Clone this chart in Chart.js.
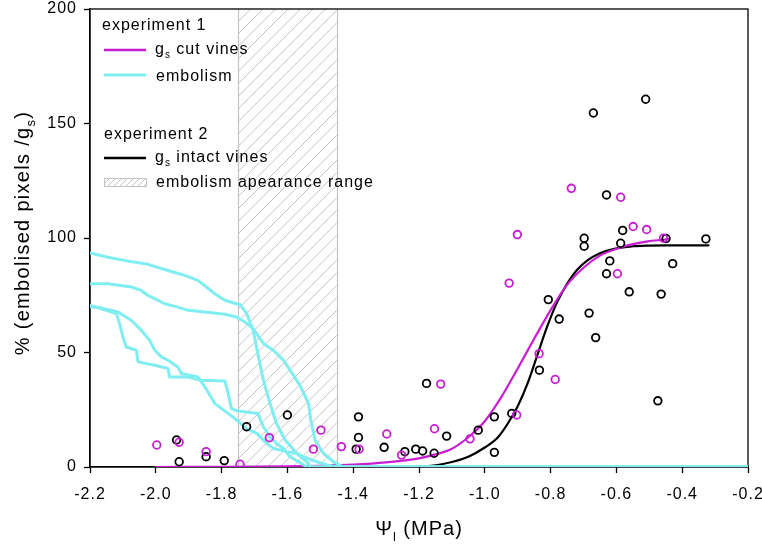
<!DOCTYPE html>
<html><head><meta charset="utf-8">
<script src="https://cdn.jsdelivr.net/npm/chart.js@4.4.1/dist/chart.umd.min.js"></script>
<style>html,body{margin:0;padding:0;background:#fff;}#wrap{width:762px;height:551px;position:relative;}</style>
</head><body><div id="wrap"><canvas id="c"></canvas></div>
<script>
// ---------- DATA ----------
const xTickValues = [-2.2, -2.0, -1.8, -1.6, -1.4, -1.2, -1.0, -0.8, -0.6, -0.4, -0.2];
const yTickValues = [0, 50, 100, 150, 200];

// embolism appearance range (MPa)
const rangeFrom = -1.75;
const rangeTo = -1.45;

// gs cut vines (experiment 1) – observations
const cutPsi = [-1.997, -1.929, -1.847, -1.744, -1.655, -1.521, -1.498, -1.436, -1.382, -1.298, -1.253, -1.153, -1.134, -1.045, -0.926, -0.903, -0.901, -0.835, -0.786, -0.737, -0.597, -0.587, -0.549, -0.508, -0.457];
const cutGs  = [9.6, 10.8, 6.7, 1.2, 12.8, 7.8, 16.1, 8.9, 7.8, 14.4, 5.2, 16.7, 36.2, 12.3, 80.3, 22.7, 101.5, 49.5, 38.2, 121.7, 84.4, 117.8, 105.0, 103.7, 99.9];

// gs intact vines (experiment 2) – observations
const intactPsi = [-1.937, -1.929, -1.847, -1.792, -1.724, -1.600, -1.384, -1.384, -1.391, -1.306, -1.243, -1.210, -1.189, -1.154, -1.177, -1.116, -1.020, -0.971, -0.971, -0.918, -0.834, -0.807, -0.774, -0.698, -0.698, -0.683, -0.670, -0.663, -0.630, -0.630, -0.620, -0.581, -0.587, -0.561, -0.511, -0.474, -0.464, -0.449, -0.429, -0.328];
const intactGs  = [11.8, 2.3, 4.5, 2.8, 17.6, 22.7, 21.9, 12.9, 7.8, 8.6, 6.7, 7.8, 7.0, 6.0, 36.5, 13.5, 16.1, 21.9, 6.4, 23.4, 42.3, 73.1, 64.6, 99.9, 96.4, 67.2, 154.6, 56.5, 118.8, 84.4, 90.0, 103.3, 97.7, 76.5, 160.6, 28.9, 75.5, 99.8, 88.8, 99.6];

// fitted curves
const cutFitPsi = [-2.0, -1.8, -1.6, -1.5, -1.4, -1.3, -1.2, -1.15, -1.1, -1.05, -1.0, -0.95, -0.9, -0.85, -0.8, -0.75, -0.7, -0.65, -0.6, -0.55, -0.5, -0.44];
const cutFitGs  = [0, 0.05, 0.25, 0.5, 1.0, 2.0, 3.8, 5.5, 8, 13, 20, 30.5, 43, 56, 68.5, 79.5, 87, 92.3, 95.3, 97.3, 98.6, 99.5];
const intactFitPsi = [-2.0, -1.5, -1.3, -1.18, -1.1, -1.05, -1.0, -0.96, -0.93, -0.9, -0.87, -0.84, -0.81, -0.78, -0.75, -0.72, -0.69, -0.65, -0.6, -0.55, -0.5, -0.45, -0.4, -0.32];
const intactFitGs  = [0, 0, 0, 0.3, 2.2, 4.5, 8.5, 13, 19, 26.5, 36.5, 49, 61.5, 72, 80, 86, 90, 93.3, 95.5, 96.4, 96.7, 96.8, 96.8, 96.8];

// embolism curves (experiment 1, four vines)
const emb1Psi = [-2.2, -2.145, -2.084, -2.024, -1.963, -1.912, -1.872, -1.846, -1.821, -1.79, -1.755, -1.744, -1.724, -1.704, -1.688, -1.673, -1.653, -1.633, -1.607, -1.572, -1.541, -1.53, -0.2];
const emb1Pct = [93.5, 91.6, 89.9, 88.5, 85.8, 83.7, 81.5, 78.6, 75.7, 72.8, 71.3, 71.0, 67, 59.7, 48.1, 37.9, 27.8, 19, 11.8, 6, 2.3, 0, 0];
const emb2Psi = [-2.2, -2.145, -2.074, -2.044, -2.024, -1.993, -1.973, -1.933, -1.902, -1.851, -1.79, -1.755, -1.729, -1.704, -1.673, -1.643, -1.612, -1.592, -1.562, -1.536, -1.529, -1.516, -1.491, -1.46, -1.43, -0.2];
const emb2Pct = [80, 80, 78.6, 77.1, 74.9, 72.8, 71.3, 69.8, 68.4, 67.7, 66.7, 65.5, 63.3, 60.4, 53.9, 51, 46.6, 42.3, 35.7, 27.8, 20.5, 11.8, 6, 2.3, 0, 0];
const emb3Psi = [-2.2, -2.166, -2.12, -2.11, -2.1, -2.09, -2.059, -2.054, -2.003, -1.963, -1.958, -1.902, -1.862, -1.79, -1.78, -1.77, -1.754, -1.69, -1.673, -1.653, -1.633, -1.612, -1.592, -1.562, -1.54, -0.2];
const emb3Pct = [70.6, 69.1, 67, 62.6, 56.8, 52.4, 51, 45.9, 44.4, 43, 39.3, 39.3, 37.9, 37.6, 32.1, 25.5, 24.6, 23.4, 17.6, 13.2, 10.3, 8.1, 4.5, 1.9, 0, 0];
const emb4Psi = [-2.2, -2.166, -2.115, -2.074, -2.044, -2.019, -2.003, -1.983, -1.963, -1.933, -1.922, -1.872, -1.851, -1.821, -1.78, -1.754, -1.724, -1.693, -1.663, -1.643, -1.602, -1.572, -1.552, -1.511, -1.48, -1.45, -0.2];
const emb4Pct = [70, 69.5, 67.7, 64, 59.7, 55.3, 51, 48.1, 46.6, 43.7, 40.8, 39.3, 35, 27.8, 23.4, 20.5, 16.8, 14.7, 10.3, 8.1, 6.7, 6, 4.5, 2.3, 0.9, 0, 0];

// texts
const xTitleMain = 'Ψ', xTitleSub = 'l', xTitleRest = ' (MPa)';
const yTitleMain = '% (embolised pixels /g', yTitleSub = 's', yTitleRest = ')';
const legendHead1 = 'experiment 1';
const legendCut = ['g', 's', ' cut vines'];
const legendEmb = 'embolism';
const legendHead2 = 'experiment 2';
const legendIntact = ['g', 's', ' intact vines'];
const legendRange = 'embolism apearance range';

// ---------- STYLE ----------
const MAGENTA = '#c81ed2';
const CYAN = '#80eef0';
const HATCH = '#c4c4c4';
const FONT = "'Liberation Sans', Arial, sans-serif";
const SPACING = '1px';

const pts = (xs, ys) => xs.map((x, i) => ({ x: x, y: ys[i] }));

function hatchPath(ctx, x1, x2, yTop, yBot, step) {
  ctx.save();
  ctx.beginPath();
  ctx.rect(x1, yTop, x2 - x1, yBot - yTop);
  ctx.clip();
  ctx.strokeStyle = HATCH;
  ctx.lineWidth = 1;
  ctx.beginPath();
  const h = yBot - yTop;
  for (let k = -h; k < (x2 - x1) + h; k += step) {
    ctx.moveTo(x1 + k, yBot);
    ctx.lineTo(x1 + k + h, yTop);
  }
  ctx.stroke();
  ctx.restore();
}

function drawSub(ctx, x, y, main, sub, rest, size, align) {
  ctx.font = `${size}px ${FONT}`;
  const w1 = ctx.measureText(main).width;
  const w3 = ctx.measureText(rest).width;
  ctx.font = `${Math.round(size * 0.65)}px ${FONT}`;
  const w2 = ctx.measureText(sub).width;
  let sx = x;
  if (align === 'center') sx = x - (w1 + w2 + w3) / 2;
  ctx.textAlign = 'left';
  ctx.font = `${size}px ${FONT}`;
  ctx.fillText(main, sx, y);
  ctx.font = `${Math.round(size * 0.65)}px ${FONT}`;
  ctx.fillText(sub, sx + w1, y + size * 0.28);
  ctx.font = `${size}px ${FONT}`;
  ctx.fillText(rest, sx + w1 + w2, y);
}

const spacingPlugin = {
  id: 'spacing',
  beforeLayout(chart) { chart.ctx.letterSpacing = SPACING; },
  beforeDraw(chart) { chart.ctx.letterSpacing = SPACING; }
};

const rangePlugin = {
  id: 'range',
  beforeDatasetsDraw(chart) {
    const { ctx, scales: { x, y } } = chart;
    const a = chart.chartArea;
    const x1 = x.getPixelForValue(rangeFrom), x2 = x.getPixelForValue(rangeTo);
    const yTop = y.getPixelForValue(200), yBot = y.getPixelForValue(0);
    hatchPath(ctx, x1, x2, yTop, yBot, 12.5);
    ctx.save();
    ctx.strokeStyle = HATCH;
    ctx.lineWidth = 1.2;
    ctx.beginPath();
    ctx.moveTo(Math.round(x1) + 0.5, yTop); ctx.lineTo(Math.round(x1) + 0.5, yBot);
    ctx.moveTo(Math.round(x2) + 0.5, yTop); ctx.lineTo(Math.round(x2) + 0.5, yBot);
    ctx.stroke();
    // frame
    ctx.strokeStyle = '#000';
    ctx.lineWidth = 1.3;
    ctx.strokeRect(a.left, a.top, a.right - a.left, a.bottom - a.top);
    ctx.restore();
  }
};

const decorPlugin = {
  id: 'decor',
  afterDatasetsDraw(chart) {
    const ctx = chart.ctx;
    const a = chart.chartArea;
    ctx.save();
    ctx.letterSpacing = SPACING;
    ctx.fillStyle = '#000';
    ctx.textBaseline = 'alphabetic';
    // legend
    const S = 16;
    ctx.font = `${S}px ${FONT}`;
    ctx.textAlign = 'left';
    ctx.fillText(legendHead1, 102, 30);
    ctx.lineWidth = 2.5;
    ctx.strokeStyle = MAGENTA;
    ctx.beginPath(); ctx.moveTo(104, 50); ctx.lineTo(146, 50); ctx.stroke();
    drawSub(ctx, 155, 54, legendCut[0], legendCut[1], legendCut[2], S);
    ctx.strokeStyle = CYAN;
    ctx.lineWidth = 3;
    ctx.beginPath(); ctx.moveTo(104, 75); ctx.lineTo(146, 75); ctx.stroke();
    ctx.font = `${S}px ${FONT}`;
    ctx.fillText(legendEmb, 156, 81);
    ctx.fillText(legendHead2, 104, 139);
    ctx.strokeStyle = '#000';
    ctx.lineWidth = 2.5;
    ctx.beginPath(); ctx.moveTo(104, 158); ctx.lineTo(146, 158); ctx.stroke();
    drawSub(ctx, 155, 162, legendIntact[0], legendIntact[1], legendIntact[2], S);
    hatchPath(ctx, 104, 147, 178, 186, 6);
    ctx.strokeStyle = HATCH;
    ctx.lineWidth = 1;
    ctx.strokeRect(104.5, 178.5, 42, 8);
    ctx.font = `${S}px ${FONT}`;
    ctx.fillText(legendRange, 156, 187);
    // axis titles
    drawSub(ctx, (a.left + a.right) / 2, 535, xTitleMain, xTitleSub, xTitleRest, 20, 'center');
    ctx.save();
    ctx.translate(29, (a.top + a.bottom) / 2 - 5);
    ctx.rotate(-Math.PI / 2);
    ctx.letterSpacing = '1.3px';
    drawSub(ctx, 0, 0, yTitleMain, yTitleSub, yTitleRest, 20, 'center');
    ctx.restore();
    ctx.restore();
  }
};

Chart.defaults.font.family = FONT;
Chart.defaults.font.size = 16;
Chart.defaults.color = '#000';

const lineDs = (label, xs, ys, color, width) => ({
  label, data: pts(xs, ys), showLine: true, borderColor: color, borderWidth: width,
  pointRadius: 0, pointHoverRadius: 0, fill: false, tension: 0, borderJoinStyle: 'round', borderCapStyle: 'round'
});

const zeroPad = (s) => { s.paddingTop = 0; s.paddingBottom = 0; s.paddingLeft = 0; s.paddingRight = 0; };

new Chart(document.getElementById('c'), {
  type: 'scatter',
  data: {
    datasets: [
      { label: 'gs cut vines (obs)', data: pts(cutPsi, cutGs), pointStyle: 'circle', pointRadius: 3.8, borderWidth: 1.8,
        borderColor: MAGENTA, backgroundColor: 'rgba(0,0,0,0)' },
      { label: 'gs intact vines (obs)', data: pts(intactPsi, intactGs), pointStyle: 'circle', pointRadius: 3.8, borderWidth: 1.8,
        borderColor: '#000', backgroundColor: 'rgba(0,0,0,0)' },
      lineDs('embolism 1', emb1Psi, emb1Pct, CYAN, 3),
      lineDs('embolism 2', emb2Psi, emb2Pct, CYAN, 3),
      lineDs('embolism 3', emb3Psi, emb3Pct, CYAN, 3),
      lineDs('embolism 4', emb4Psi, emb4Pct, CYAN, 3),
      Object.assign(lineDs('gs cut vines', cutFitPsi, cutFitGs, MAGENTA, 2.2), { tension: 0.4, cubicInterpolationMode: 'monotone' }),
      Object.assign(lineDs('gs intact vines', intactFitPsi, intactFitGs, '#000', 2.2), { tension: 0.4, cubicInterpolationMode: 'monotone' })
    ]
  },
  options: {
    responsive: true,
    maintainAspectRatio: false,
    animation: false,
    events: [],
    layout: { padding: { left: 0, right: 14, top: 9, bottom: 0 } },
    plugins: { legend: { display: false }, tooltip: { enabled: false }, title: { display: false } },
    scales: {
      x: {
        type: 'linear', min: -2.2, max: -0.2,
        afterBuildTicks: (s) => { s.ticks = xTickValues.map(v => ({ value: v })); },
        afterFit: (s) => { s.height = 84; zeroPad(s); },
        ticks: { callback: (v) => Number(v).toFixed(1), padding: 12, maxRotation: 0, autoSkip: false, font: { size: 16 } },
        grid: { drawOnChartArea: false, drawTicks: true, tickLength: 6, tickColor: '#000', tickWidth: 1.3 },
        border: { display: true, color: '#000', width: 1.3 }
      },
      y: {
        type: 'linear', min: 0, max: 200,
        afterBuildTicks: (s) => { s.ticks = yTickValues.map(v => ({ value: v })); },
        afterFit: (s) => { s.width = 90; zeroPad(s); },
        ticks: { padding: 7, font: { size: 16 } },
        grid: { drawOnChartArea: false, drawTicks: true, tickLength: 6, tickColor: '#000', tickWidth: 1.3 },
        border: { display: true, color: '#000', width: 1.3 }
      }
    }
  },
  plugins: [spacingPlugin, rangePlugin, decorPlugin]
});
</script></body></html>
